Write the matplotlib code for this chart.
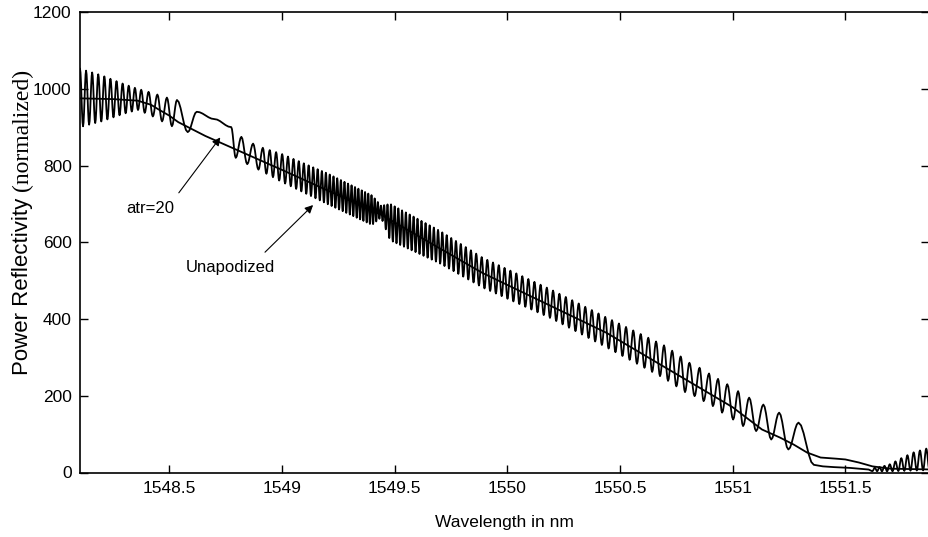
import numpy as np
import matplotlib.pyplot as plt

# apodized grating (atr=20)
apod_wl = [1548.104, 1548.25, 1548.36, 1548.42, 1548.45, 1548.50, 1548.54, 1548.60,
           1548.66, 1548.81, 1549.01, 1549.44, 1549.89, 1550.44, 1551.00, 1551.13,
           1551.21, 1551.27, 1551.33, 1551.39, 1551.46, 1551.50, 1551.56, 1551.62,
           1551.70, 1551.87]
apod_r = [975, 973, 969, 958, 947, 930, 913, 895,
          877, 838, 786, 672, 520, 364, 170, 112,
          91, 73, 52, 39, 36, 34, 26, 16,
          10, 8]

# unapodized grating: fringe envelope / fringe spacing read at a few wavelengths
left_wl = [1548.104, 1548.20, 1548.30, 1548.36, 1548.42, 1548.50, 1548.58]
left_hi = [1052, 1035, 1012, 1000, 990, 975, 965]
left_lo = [900, 915, 935, 945, 930, 905, 887]
left_step = [0.027, 0.027, 0.027, 0.028, 0.040, 0.045, 0.045]

# the flat step around 1548.7
step_wl = [1548.582, 1548.622, 1548.70, 1548.775, 1548.795]
step_r = [887, 940, 921, 900, 820]

mid_wl = [1548.80, 1548.86, 1548.92, 1549.00, 1549.20, 1549.40, 1549.44, 1549.48,
          1549.70, 1549.89, 1550.20, 1550.44, 1550.70, 1550.80]
mid_hi = [882, 860, 845, 830, 780, 722, 695, 700, 630, 560, 475, 404, 330, 290]
mid_lo = [815, 800, 782, 757, 700, 645, 665, 605, 545, 482, 400, 326, 244, 205]
mid_step = [0.052, 0.052, 0.030, 0.026, 0.017, 0.014, 0.014, 0.016,
            0.019, 0.025, 0.028, 0.030, 0.036, 0.040]

# last resolved fringes (peak, trough, ...)
right_wl = [1550.808, 1550.831, 1550.853, 1550.871, 1550.895, 1550.912, 1550.935,
            1550.953, 1550.976, 1551.002, 1551.024, 1551.046, 1551.073, 1551.104,
            1551.136, 1551.171, 1551.206, 1551.247, 1551.292, 1551.36]
right_r = [286, 199, 273, 186, 258, 173, 244, 156, 230, 138, 212, 121, 195, 108,
           177, 86, 156, 60, 130, 20]

flat_wl = [1551.40, 1551.45, 1551.52, 1551.60]
flat_r = [16, 14, 12, 8]

tail_wl = [1551.60, 1551.66, 1551.70, 1551.75, 1551.80, 1551.88]
tail_hi = [10, 15, 22, 38, 52, 66]
tail_lo = [4, 3, 3, 4, 5, 6]
tail_step = [0.020, 0.022, 0.025, 0.027, 0.028, 0.028]


def fringe_turns(wl, hi, lo, step, start, stop, first_up=True, end_up=None):
    xs, ys = [], []
    x = start
    up = first_up
    while x < stop:
        xs.append(x)
        ys.append(np.interp(x, wl, hi if up else lo))
        x += np.interp(x, wl, step) / 2
        up = not up
    # make the last point a peak (end_up=True) or trough (end_up=False)
    if end_up is not None and (len(xs) % 2 == 1) != (first_up == end_up):
        xs, ys = xs[:-1], ys[:-1]
    return xs, ys


def ease(xs, ys, n=6):
    ox, oy = [xs[0]], [ys[0]]
    t = np.linspace(0, 1, n + 1)[1:]
    w = (1 - np.cos(np.pi * t)) / 2
    for i in range(len(xs) - 1):
        ox.extend(xs[i] + (xs[i + 1] - xs[i]) * t)
        oy.extend(ys[i] + (ys[i + 1] - ys[i]) * w)
    return ox, oy


ax_l, ay_l = fringe_turns(left_wl, left_hi, left_lo, left_step, 1548.104, 1548.56, True, True)
mx, my = fringe_turns(mid_wl, mid_hi, mid_lo, mid_step, 1548.82, 1550.79, True, False)
tx, ty = fringe_turns(tail_wl, tail_hi, tail_lo, tail_step, 1551.62, 1551.88, False)

turn_x = ax_l + step_wl + mx + right_wl
turn_y = ay_l + step_r + my + right_r
ux, uy = ease(turn_x, turn_y)
ex, ey = ease([flat_wl[-1]] + tx, [flat_r[-1]] + ty)
ux = list(ux) + flat_wl + list(ex)
uy = list(uy) + flat_r + list(ey)

plt.rcParams['font.family'] = ['Liberation Sans', 'DejaVu Sans']

fig = plt.figure(figsize=(9.29, 5.37), dpi=100)
ax = fig.add_axes([80 / 929, 64.5 / 537, 849 / 929, 460.5 / 537])

ax.plot(ux, uy, color='black', lw=1.3)
ax.plot(apod_wl, apod_r, color='black', lw=1.3)

ax.set_xlim(1548.104, 1551.871)
ax.set_ylim(0, 1200)
ax.set_xticks([1548.5, 1549, 1549.5, 1550, 1550.5, 1551, 1551.5])
ax.set_xticklabels(['1548.5', '1549', '1549.5', '1550', '1550.5', '1551', '1551.5'])
ax.set_yticks([0, 200, 400, 600, 800, 1000, 1200])
ax.tick_params(direction='in', top=True, right=True, length=6, width=1,
               labelsize=12.5, pad=6)
for s in ax.spines.values():
    s.set_linewidth(1.2)

arrow = dict(arrowstyle='-|>', color='black', lw=0.8, mutation_scale=12)
ax.annotate('', xy=(1548.734, 879), xytext=(1548.535, 723), arrowprops=arrow)
ax.text(1548.415, 689, 'atr=20', ha='center', va='center', fontsize=12)
ax.annotate('', xy=(1549.147, 702), xytext=(1548.916, 569), arrowprops=arrow)
ax.text(1548.77, 533, 'Unapodized', ha='center', va='center', fontsize=12)

ax.set_xlabel('Wavelength in nm', fontsize=12.5, labelpad=14)

# y label: sans part plus serif part
fig.canvas.draw()
r = fig.canvas.get_renderer()
t1 = fig.text(28 / 929, 0, 'Power Reflectivity ', rotation=90, rotation_mode='anchor',
              ha='left', va='baseline', fontsize=16, family='Liberation Sans')
t2 = fig.text(28 / 929, 0, '(normalized)', rotation=90, rotation_mode='anchor',
              ha='left', va='baseline', fontsize=17, family='Liberation Serif')
h1 = t1.get_window_extent(r).height
h2 = t2.get_window_extent(r).height
y0 = (537 - 222) - (h1 + h2) / 2
t1.set_position((28 / 929, y0 / 537))
t2.set_position((28 / 929, (y0 + h1) / 537))

fig.savefig('out.png', dpi=100)
